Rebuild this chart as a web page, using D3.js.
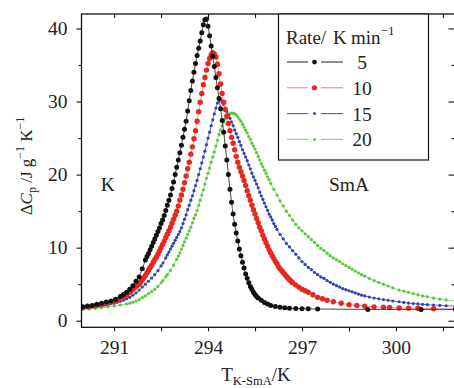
<!DOCTYPE html>
<html>
<head>
<meta charset="utf-8">
<script src="https://cdn.jsdelivr.net/npm/d3@7"></script>
<style>
  body { margin: 0; background: #fff; }
  text { font-family: 'Liberation Serif', 'Times New Roman', serif; fill: #222; }
</style>
</head>
<body>
<svg id="chart" width="454" height="388"></svg>
<script>
// heating rates, K/min
let rates = ['5', '10', '15', '20']
let rateColors = ['#111111', '#e8281e', '#2f45b5', '#5cc93c']
let lineColors = ['#333333', '#f08a86', '#4a5cc4', '#7fd46a']

// values: T (K) and delta Cp (J/g/K)
let t5 = [290.0, 290.15, 290.3, 290.45, 290.6, 290.75, 290.9, 291.05, 291.2, 291.3, 291.4, 291.5, 291.6, 291.7, 291.8, 291.9, 292.0, 292.05, 292.1, 292.15, 292.2, 292.25, 292.3, 292.35, 292.4, 292.45, 292.5, 292.55, 292.6, 292.65, 292.7, 292.75, 292.8, 292.85, 292.9, 292.95, 293.0, 293.05, 293.1, 293.15, 293.2, 293.25, 293.3, 293.35, 293.4, 293.45, 293.5, 293.55, 293.6, 293.65, 293.7, 293.75, 293.8, 293.85, 293.9, 293.95, 294.0, 294.05, 294.1, 294.15, 294.2, 294.25, 294.3, 294.35, 294.4, 294.45, 294.5, 294.55, 294.6, 294.65, 294.7, 294.75, 294.8, 294.85, 294.9, 294.95, 295.0, 295.05, 295.1, 295.15, 295.2, 295.25, 295.3, 295.35, 295.4, 295.45, 295.5, 295.55, 295.6, 295.7, 295.8, 295.9, 296.0, 296.15, 296.3, 296.45, 296.6, 296.8, 297.0, 297.2, 297.5, 299.1, 300.8, 301.9]
let cp5 = [1.9, 2.0, 2.1, 2.25, 2.4, 2.55, 2.7, 2.95, 3.3, 3.6, 3.9, 4.3, 4.8, 5.4, 6.0, 7.1, 8.3, 8.8, 9.2, 9.7, 10.2, 10.7, 11.2, 11.7, 12.2, 12.7, 13.3, 13.8, 14.4, 15.1, 15.8, 16.5, 17.2, 18.1, 19.0, 20.0, 21.0, 22.0, 23.0, 24.0, 25.1, 26.2, 27.3, 28.7, 30.1, 31.5, 32.8, 34.0, 35.2, 36.3, 37.3, 38.3, 39.4, 40.5, 41.2, 41.3, 40.3, 39.0, 37.6, 36.2, 34.8, 33.3, 31.9, 30.4, 29.0, 27.4, 25.8, 23.9, 22.0, 20.0, 18.0, 16.2, 14.6, 13.2, 12.0, 10.9, 9.8, 8.9, 8.0, 7.2, 6.4, 5.8, 5.2, 4.7, 4.3, 3.9, 3.6, 3.3, 3.1, 2.8, 2.5, 2.3, 2.1, 1.95, 1.85, 1.78, 1.72, 1.68, 1.65, 1.63, 1.6, 1.55, 1.55, 1.55]

let t10 = [290.0, 290.2, 290.4, 290.6, 290.8, 291.0, 291.15, 291.3, 291.4, 291.5, 291.55, 291.6, 291.65, 291.7, 291.75, 291.8, 291.85, 291.9, 291.95, 292.0, 292.05, 292.1, 292.15, 292.2, 292.25, 292.3, 292.35, 292.4, 292.45, 292.5, 292.55, 292.6, 292.65, 292.7, 292.75, 292.8, 292.85, 292.9, 292.95, 293.0, 293.05, 293.1, 293.15, 293.2, 293.25, 293.3, 293.35, 293.4, 293.45, 293.5, 293.55, 293.6, 293.65, 293.7, 293.75, 293.8, 293.85, 293.9, 293.95, 294.0, 294.05, 294.1, 294.15, 294.2, 294.25, 294.3, 294.35, 294.4, 294.45, 294.5, 294.55, 294.6, 294.65, 294.7, 294.75, 294.8, 294.85, 294.9, 294.95, 295.0, 295.05, 295.1, 295.15, 295.2, 295.25, 295.3, 295.35, 295.4, 295.45, 295.5, 295.55, 295.6, 295.65, 295.7, 295.75, 295.8, 295.85, 295.9, 295.95, 296.0, 296.05, 296.1, 296.15, 296.2, 296.25, 296.3, 296.35, 296.4, 296.45, 296.5, 296.55, 296.6, 296.65, 296.7, 296.8, 296.9, 297.0, 297.1, 297.2, 297.35, 297.5, 297.65, 297.8, 298.0, 298.25, 298.5, 298.75, 299.0, 299.3, 299.6, 299.8, 300.1, 300.4, 300.7, 301.2, 301.9]
let cp10 = [1.8, 1.9, 2.05, 2.2, 2.4, 2.6, 2.9, 3.2, 3.5, 3.9, 4.1, 4.3, 4.5, 4.7, 4.85, 5.0, 5.3, 5.6, 5.9, 6.2, 6.55, 6.9, 7.25, 7.6, 8.0, 8.35, 8.7, 9.1, 9.55, 10.0, 10.45, 10.9, 11.4, 11.85, 12.3, 12.8, 13.35, 13.9, 14.45, 15.0, 15.7, 16.5, 17.2, 18.0, 18.9, 19.8, 20.8, 21.7, 22.8, 23.8, 24.9, 26.0, 27.3, 28.6, 29.9, 31.1, 32.3, 33.3, 34.3, 35.2, 35.9, 36.4, 36.7, 36.5, 36.1, 35.1, 33.8, 32.4, 31.1, 29.9, 28.9, 28.0, 27.0, 26.0, 25.1, 24.3, 23.4, 22.5, 21.7, 21.0, 20.4, 19.8, 19.2, 18.5, 17.8, 17.1, 16.5, 15.8, 15.2, 14.6, 14.0, 13.4, 12.8, 12.3, 11.7, 11.2, 10.7, 10.2, 9.7, 9.3, 8.9, 8.5, 8.1, 7.8, 7.4, 7.1, 6.85, 6.6, 6.35, 6.1, 5.85, 5.6, 5.4, 5.2, 4.9, 4.6, 4.3, 4.1, 3.9, 3.55, 3.2, 3.0, 2.8, 2.6, 2.4, 2.2, 2.1, 2.0, 1.9, 1.85, 1.8, 1.75, 1.72, 1.7, 1.65, 1.6]

let t15 = [290.0, 290.1, 290.2, 290.3, 290.4, 290.5, 290.6, 290.7, 290.8, 290.9, 291.0, 291.1, 291.2, 291.3, 291.4, 291.5, 291.6, 291.7, 291.8, 291.9, 292.0, 292.1, 292.2, 292.3, 292.4, 292.5, 292.56, 292.65, 292.7, 292.75, 292.8, 292.85, 292.9, 292.95, 293.0, 293.05, 293.1, 293.15, 293.2, 293.25, 293.3, 293.35, 293.4, 293.45, 293.5, 293.55, 293.6, 293.65, 293.7, 293.75, 293.8, 293.85, 293.9, 293.95, 294.0, 294.05, 294.1, 294.15, 294.2, 294.25, 294.3, 294.35, 294.4, 294.45, 294.5, 294.55, 294.6, 294.65, 294.7, 294.75, 294.8, 294.85, 294.9, 294.95, 295.0, 295.05, 295.1, 295.15, 295.2, 295.25, 295.3, 295.35, 295.4, 295.45, 295.5, 295.55, 295.6, 295.65, 295.7, 295.75, 295.8, 295.85, 295.9, 295.95, 296.0, 296.05, 296.1, 296.15, 296.2, 296.3, 296.4, 296.5, 296.6, 296.7, 296.8, 296.9, 297.0, 297.1, 297.2, 297.3, 297.4, 297.5, 297.6, 297.7, 297.8, 297.9, 298.0, 298.1, 298.2, 298.3, 298.4, 298.5, 298.6, 298.7, 298.8, 298.9, 299.0, 299.15, 299.3, 299.45, 299.6, 299.75, 299.9, 300.1, 300.25, 300.4, 300.55, 300.7, 300.85, 301.0, 301.2, 301.4, 301.6, 301.9]
let cp15 = [1.75, 1.8, 1.85, 1.9, 1.95, 2.0, 2.07, 2.15, 2.23, 2.32, 2.4, 2.52, 2.65, 2.8, 3.0, 3.2, 3.5, 3.8, 4.2, 4.6, 5.0, 5.4, 5.85, 6.3, 6.85, 7.5, 7.9, 8.6, 9.0, 9.4, 9.8, 10.2, 10.6, 11.0, 11.4, 11.8, 12.2, 12.7, 13.3, 13.9, 14.5, 15.2, 15.8, 16.5, 17.1, 17.8, 18.5, 19.2, 20.0, 20.8, 21.6, 22.4, 23.2, 24.1, 25.0, 25.8, 26.7, 27.5, 28.3, 29.1, 29.8, 30.2, 30.3, 30.0, 29.6, 29.1, 28.6, 28.1, 27.7, 27.2, 26.7, 26.1, 25.6, 25.1, 24.5, 24.0, 23.4, 22.9, 22.4, 21.9, 21.3, 20.8, 20.2, 19.7, 19.2, 18.7, 18.2, 17.6, 17.1, 16.6, 16.1, 15.6, 15.1, 14.6, 14.2, 13.8, 13.3, 12.9, 12.5, 11.8, 11.2, 10.6, 10.1, 9.6, 9.1, 8.6, 8.1, 7.7, 7.3, 7.0, 6.6, 6.3, 6.0, 5.8, 5.5, 5.25, 5.0, 4.8, 4.6, 4.4, 4.25, 4.1, 3.95, 3.8, 3.65, 3.5, 3.4, 3.25, 3.1, 3.0, 2.9, 2.8, 2.7, 2.6, 2.5, 2.42, 2.35, 2.3, 2.25, 2.2, 2.15, 2.1, 2.05, 2.0]

let t20 = [290.0, 290.2, 290.4, 290.6, 290.8, 291.0, 291.2, 291.4, 291.5, 291.6, 291.7, 291.8, 291.9, 292.0, 292.1, 292.2, 292.3, 292.4, 292.5, 292.56, 292.65, 292.7, 292.8, 292.9, 293.0, 293.05, 293.1, 293.15, 293.2, 293.25, 293.3, 293.35, 293.4, 293.45, 293.5, 293.55, 293.6, 293.65, 293.7, 293.75, 293.8, 293.85, 293.9, 293.95, 294.0, 294.05, 294.1, 294.15, 294.2, 294.25, 294.3, 294.35, 294.4, 294.45, 294.5, 294.55, 294.6, 294.65, 294.7, 294.75, 294.8, 294.85, 294.9, 294.95, 295.0, 295.05, 295.1, 295.15, 295.2, 295.25, 295.3, 295.35, 295.4, 295.45, 295.5, 295.55, 295.6, 295.65, 295.7, 295.75, 295.8, 295.85, 295.9, 295.95, 296.0, 296.1, 296.2, 296.3, 296.4, 296.5, 296.6, 296.7, 296.8, 296.9, 297.0, 297.1, 297.2, 297.3, 297.4, 297.5, 297.6, 297.7, 297.8, 297.9, 298.0, 298.1, 298.2, 298.3, 298.4, 298.5, 298.6, 298.7, 298.8, 298.9, 299.0, 299.15, 299.3, 299.45, 299.6, 299.75, 299.9, 300.1, 300.25, 300.4, 300.55, 300.7, 300.85, 301.0, 301.2, 301.4, 301.6, 301.9]
let cp20 = [1.55, 1.62, 1.7, 1.8, 1.9, 2.0, 2.15, 2.3, 2.4, 2.55, 2.7, 2.9, 3.15, 3.4, 3.7, 4.0, 4.3, 4.7, 5.2, 5.5, 6.0, 6.3, 6.9, 7.6, 8.4, 8.85, 9.3, 9.8, 10.3, 10.8, 11.3, 11.8, 12.3, 12.8, 13.4, 14.0, 14.5, 15.1, 15.8, 16.5, 17.2, 17.9, 18.7, 19.5, 20.2, 20.9, 21.7, 22.4, 23.1, 23.9, 24.7, 25.5, 26.1, 26.7, 27.2, 27.6, 27.9, 28.2, 28.3, 28.4, 28.4, 28.3, 28.2, 27.9, 27.6, 27.3, 26.9, 26.5, 26.1, 25.7, 25.2, 24.8, 24.3, 23.9, 23.5, 23.0, 22.5, 22.0, 21.5, 21.1, 20.6, 20.2, 19.7, 19.3, 18.8, 18.0, 17.2, 16.4, 15.7, 15.0, 14.4, 13.8, 13.2, 12.7, 12.3, 11.9, 11.5, 11.1, 10.7, 10.3, 9.9, 9.6, 9.25, 8.9, 8.6, 8.35, 8.1, 7.8, 7.55, 7.3, 7.05, 6.8, 6.55, 6.3, 6.1, 5.8, 5.5, 5.25, 5.0, 4.75, 4.5, 4.2, 4.05, 3.9, 3.7, 3.55, 3.4, 3.3, 3.1, 2.95, 2.85, 2.7]

let seriesT = [t5, t10, t15, t20]
let seriesCp = [cp5, cp10, cp15, cp20]
let markerR = [2.5, 2.7, 1.6, 1.6]

let yMajor = [0, 10, 20, 30, 40]
let yMinor = [5, 15, 25, 35]
let xMajor = [291, 294, 297, 300]
let xMinor = [292.5, 295.5, 298.5, 301.5]

let svg = d3.select('#chart')
let mLeft = 81.5, mRight = 455.5, mTop = 14, mBottom = 327.3

let x = d3.scaleLinear().domain([289.96, 301.9]).range([mLeft, mRight])
let y = d3.scaleLinear().domain([-0.9, 41.98]).range([mBottom, mTop])

let plot = svg.append('g')
plot.append('clipPath').attr('id', 'clip')
  .append('rect')
  .attr('x', mLeft).attr('y', mTop)
  .attr('width', mRight - mLeft).attr('height', mBottom - mTop)

let data = rates.map((r, i) => ({
  rate: r,
  i: i,
  pts: seriesT[i].map((t, j) => [t, seriesCp[i][j]])
}))

let line = d3.line()
  .x(d => x(d[0]))
  .y(d => y(d[1]))
  .curve(d3.curveMonotoneX)

// draw the slow rate last so it sits on top
let layers = plot.append('g').attr('clip-path', 'url(#clip)')
  .selectAll('g')
  .data(data.slice().reverse())
  .enter()
  .append('g')

layers.append('path')
  .attr('d', d => line(d.pts))
  .attr('fill', 'none')
  .attr('stroke', d => lineColors[d.i])
  .attr('stroke-width', 0.9)

layers.selectAll('circle')
  .data(d => d.pts.map(p => [p[0], p[1], d.i]))
  .enter()
  .append('circle')
  .attr('cx', d => x(d[0]))
  .attr('cy', d => y(d[1]))
  .attr('r', d => markerR[d[2]])
  .attr('fill', d => rateColors[d[2]])

// axes: ticks out on left/bottom, in on top/right
let axisStyle = g => {
  g.select('.domain').remove()
  g.selectAll('line').attr('stroke', '#111').attr('stroke-width', 1.1)
  g.selectAll('text').style('font-size', '19.5px').style('font-family', "'Liberation Serif', serif").attr('fill', '#222')
}

svg.append('g').attr('transform', `translate(${mLeft},0)`)
  .call(d3.axisLeft(y).tickValues(yMajor).tickSize(5).tickPadding(9).tickFormat(d3.format('d')))
  .call(axisStyle)
svg.append('g').attr('transform', `translate(${mLeft},0)`)
  .call(d3.axisLeft(y).tickValues(yMinor).tickSize(3).tickFormat(''))
  .call(axisStyle)
svg.append('g').attr('transform', `translate(${mRight},0)`)
  .call(d3.axisLeft(y).tickValues(yMajor).tickSize(7).tickFormat(''))
  .call(axisStyle)
svg.append('g').attr('transform', `translate(${mRight},0)`)
  .call(d3.axisLeft(y).tickValues(yMinor).tickSize(4).tickFormat(''))
  .call(axisStyle)

svg.append('g').attr('transform', `translate(0,${mBottom})`)
  .call(d3.axisBottom(x).tickValues(xMajor).tickSize(4).tickPadding(9).tickFormat(d3.format('d')))
  .call(axisStyle)
svg.append('g').attr('transform', `translate(0,${mBottom})`)
  .call(d3.axisBottom(x).tickValues(xMinor).tickSize(4).tickFormat(''))
  .call(axisStyle)
svg.append('g').attr('transform', `translate(0,${mTop})`)
  .call(d3.axisBottom(x).tickValues(xMajor.concat(xMinor)).tickSize(4).tickFormat(''))
  .call(axisStyle)

svg.append('rect')
  .attr('x', mLeft).attr('y', mTop)
  .attr('width', mRight - mLeft).attr('height', mBottom - mTop)
  .attr('fill', 'none')
  .attr('stroke', '#111')
  .attr('stroke-width', 1.3)

// phase labels
svg.append('text').attr('x', x(290.8)).attr('y', y(17.8))
  .attr('text-anchor', 'middle').style('font-size', '19.5px').text('K')
svg.append('text').attr('x', x(298.5)).attr('y', y(17.8))
  .attr('text-anchor', 'middle').style('font-size', '19.5px').text('SmA')

// legend
let lg = svg.append('g')
lg.append('rect')
  .attr('x', 278.5).attr('y', mTop)
  .attr('width', 150).attr('height', 146)
  .attr('fill', '#fff')
  .attr('stroke', '#111')
  .attr('stroke-width', 1.2)

let title = lg.append('text').attr('y', 43.5).style('font-size', '19px')
title.append('tspan').attr('x', 286).text('Rate/')
title.append('tspan').attr('x', 333).text('K')
title.append('tspan').attr('x', 351).text('min')
title.append('tspan').attr('dy', -9).style('font-size', '13px').text('\u22121')

let rows = lg.selectAll('.row')
  .data(data)
  .enter()
  .append('g')
  .attr('class', 'row')
  .attr('transform', (d, i) => `translate(0, ${62 + i * 25.8})`)

rows.append('line')
  .attr('x1', 287).attr('x2', 308)
  .attr('stroke', d => lineColors[d.i]).attr('stroke-width', 1.1)
rows.append('line')
  .attr('x1', 321).attr('x2', 343)
  .attr('stroke', d => lineColors[d.i]).attr('stroke-width', 1.1)
rows.append('circle')
  .attr('cx', 314.5).attr('cy', 0)
  .attr('r', d => markerR[d.i] * 0.95)
  .attr('fill', d => rateColors[d.i])
rows.append('text')
  .attr('x', 362).attr('y', 7)
  .attr('text-anchor', 'middle')
  .style('font-size', '19.5px')
  .text(d => d.rate)

// axis titles
let yt = svg.append('text')
  .attr('transform', `translate(32, 166) rotate(-90)`)
  .attr('text-anchor', 'middle')
  .style('font-size', '17px')
yt.append('tspan').text('\u0394')
yt.append('tspan').style('font-style', 'italic').text('C')
yt.append('tspan').attr('dy', 4).style('font-size', '12px').text('p')
yt.append('tspan').attr('dy', -4).text(' /J g')
yt.append('tspan').attr('dy', -8).style('font-size', '12px').text('\u22121')
yt.append('tspan').attr('dy', 8).text(' K')
yt.append('tspan').attr('dy', -8).style('font-size', '12px').text('\u22121')

let xt = svg.append('text')
  .attr('x', 256).attr('y', 381)
  .attr('text-anchor', 'middle')
  .style('font-size', '19px')
xt.append('tspan').text('T')
xt.append('tspan').attr('dy', 4).style('font-size', '12.5px').text('K-SmA')
xt.append('tspan').attr('dy', -4).text('/K')
</script>
</body>
</html>
